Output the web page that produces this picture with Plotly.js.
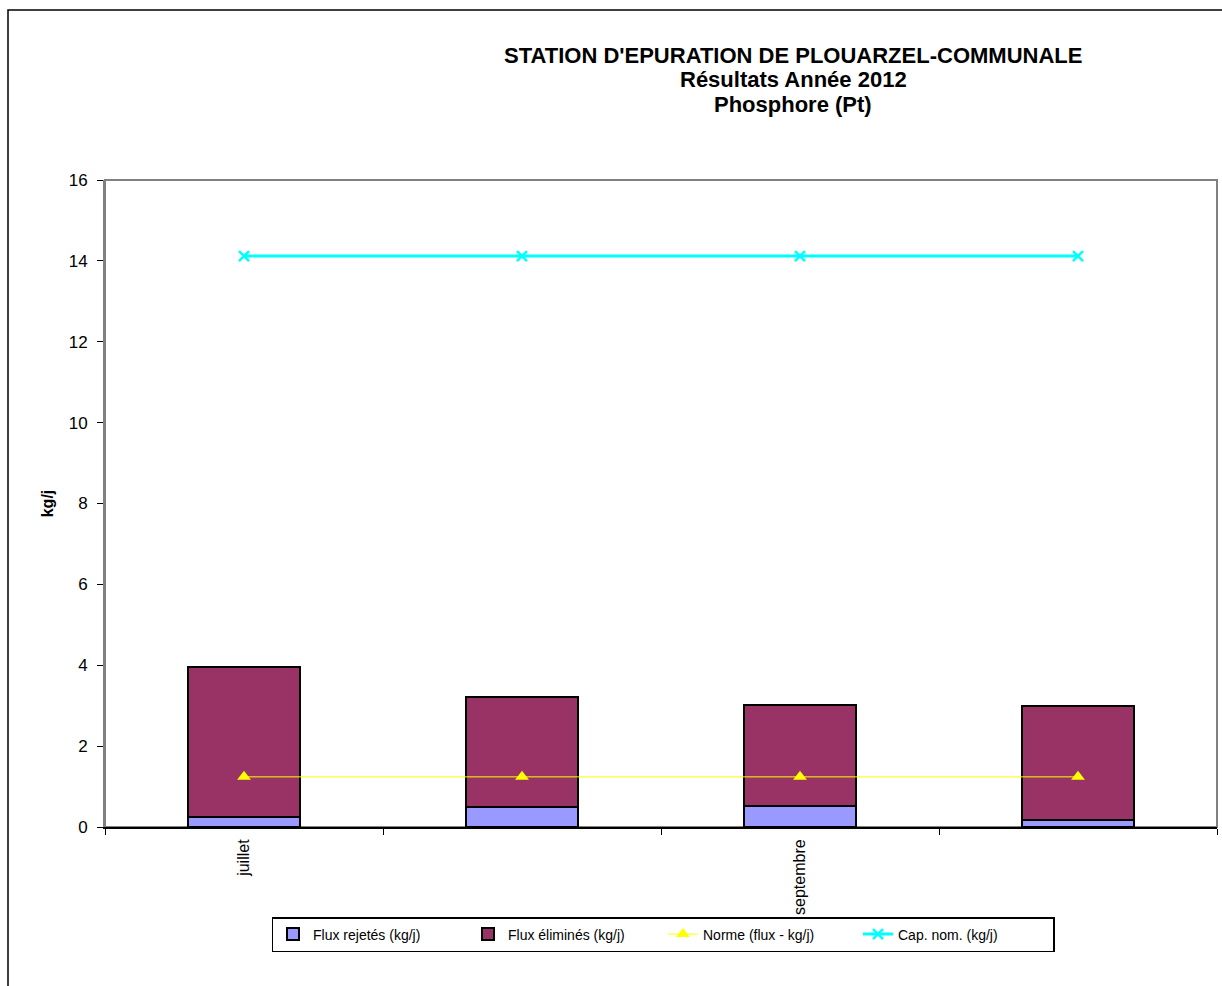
<!DOCTYPE html>
<html>
<head>
<meta charset="utf-8">
<script src="https://cdn.plot.ly/plotly-3.0.1.min.js"></script>
<style>html,body{margin:0;padding:0;background:#fff;}#chart{width:1222px;height:986px;}</style>
</head>
<body>
<div id="chart"></div>
<script>
const months = ["juillet", "août", "septembre", "octobre"];
const monthLabels = ["juillet", "", "septembre", ""];
const fluxRejetes = [0.25, 0.49, 0.52, 0.17];
const fluxElimines = [3.71, 2.72, 2.50, 2.82];
const norme = [1.24, 1.24, 1.24, 1.24];
const capNom = [14.12, 14.12, 14.12, 14.12];
const yTicks = [0, 2, 4, 6, 8, 10, 12, 14, 16];
const titleLines = ["STATION D'EPURATION DE PLOUARZEL-COMMUNALE", "Résultats Année 2012", "Phosphore (Pt)"];

const font = "Arial, 'Liberation Sans', sans-serif";

const traces = [
  {type: "bar", name: "Flux rejetés (kg/j)", x: months, y: fluxRejetes, width: 0.4,
   marker: {color: "#9999FF", line: {color: "#000000", width: 2}}},
  {type: "bar", name: "Flux éliminés (kg/j)", x: months, y: fluxElimines, width: 0.4,
   marker: {color: "#993366", line: {color: "#000000", width: 2}}},
  {type: "scatter", mode: "lines+markers", name: "Norme (flux - kg/j)", x: months, y: norme,
   line: {color: "#FFFF00", width: 1}, marker: {symbol: "triangle-up", size: 12, color: "#FFFF00"}},
  {type: "scatter", mode: "lines+markers", name: "Cap. nom. (kg/j)", x: months, y: capNom,
   line: {color: "#00FFFF", width: 3}, marker: {symbol: "x-thin", size: 10, color: "#00FFFF", line: {color: "#00FFFF", width: 2.5}}}
];

const titleY = [55, 80, 105];
const annotations = titleLines.map((t, i) => ({
  text: "<b>" + t + "</b>", xref: "paper", yref: "paper",
  x: (793 - 105) / 1112, xanchor: "center",
  y: 1 + (180 - titleY[i]) / 647, yanchor: "middle",
  showarrow: false, font: {family: font, size: 22, color: "#000000"}
}));

const layout = {
  width: 1222, height: 986,
  margin: {l: 105, r: 5, t: 180, b: 159},
  paper_bgcolor: "#ffffff", plot_bgcolor: "#ffffff",
  font: {family: font, color: "#000000"},
  barmode: "stack",
  showlegend: true,
  title: {text: ""},
  annotations: annotations,
  xaxis: {
    type: "category",
    range: [-0.5, 3.5],
    tickmode: "array", tickvals: months, ticktext: monthLabels,
    tickson: "boundaries",
    ticks: "outside", ticklen: 6, tickcolor: "#000000", tickwidth: 1,
    tickangle: -90, ticklabelstandoff: 4,
    tickfont: {family: font, size: 16, color: "#000000"},
    showline: true, linecolor: "#000000", linewidth: 2,
    showgrid: false, zeroline: false, fixedrange: true
  },
  yaxis: {
    range: [0, 16],
    tickmode: "array", tickvals: yTicks,
    ticks: "outside", ticklen: 6, tickcolor: "#000000", tickwidth: 1,
    ticklabelstandoff: 6,
    tickfont: {family: font, size: 17, color: "#000000"},
    showline: true, linecolor: "#808080", linewidth: 2,
    showgrid: false, zeroline: false,
    title: {text: "<b>kg/j</b>", font: {family: font, size: 16, color: "#000000"}, standoff: 11}
  },
  legend: {
    orientation: "h",
    x: (663 - 105) / 1112, xanchor: "center", xref: "paper",
    y: -90 / 647, yanchor: "top",
    bordercolor: "#000000", borderwidth: 1.5,
    font: {family: font, size: 14, color: "#000000"},
    entrywidth: 150, traceorder: "normal"
  },
  shapes: [
    {type: "rect", xref: "paper", yref: "paper", x0: 0, x1: 1, y0: 0, y1: 1,
     line: {color: "#808080", width: 2}, fillcolor: "rgba(0,0,0,0)", layer: "below"},
    {type: "rect", xref: "paper", yref: "paper",
     x0: -97 / 1112, x1: 1.2, y0: -0.4, y1: 1 + 170 / 647,
     line: {color: "#000000", width: 1.5}, fillcolor: "rgba(0,0,0,0)"}
  ]
};

Plotly.newPlot("chart", traces, layout, {displayModeBar: false, staticPlot: true});
</script>
</body>
</html>
